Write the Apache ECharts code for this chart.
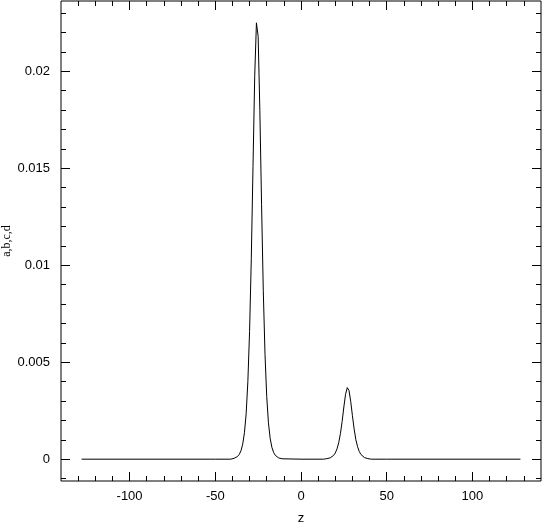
<!DOCTYPE html>
<html>
<head>
<meta charset="utf-8">
<script src="https://cdn.jsdelivr.net/npm/echarts@6/dist/echarts.min.js"></script>
<style>html,body{margin:0;padding:0;background:#fff;}#chart{width:542px;height:522px;}</style>
</head>
<body>
<div id="chart"></div>
<script>
const zValues = [-128,-50,-41,-40,-39,-38,-37,-36,-35,-34,-33,-32,-31,-30,-29,-28,-27,-26,-25,-24,-23,-22,-21,-20,-19,-18,-17,-16,-15,-14,-13,-12,-11,-10,0,13,14,15,16,17,18,19,20,21,22,23,24,25,26,27,28,29,30,31,32,33,34,35,36,37,38,39,40,41,50,128];
const abcdValues = [0,0,0,0.000025,0.000045,0.00008,0.000142,0.000249,0.000441,0.000775,0.00136,0.00234,0.00399,0.00658,0.01033,0.01509,0.01975,0.0225,0.0218,0.01799,0.01312,0.00868,0.00541,0.00324,0.00188,0.00108,0.000617,0.000351,0.000199,0.000113,0.000064,0.000036,0.00002,0,0,0,0.000014,0.000024,0.00004,0.000068,0.000115,0.000192,0.00032,0.000528,0.000847,0.00132,0.00195,0.00269,0.00335,0.00369,0.00354,0.00298,0.00224,0.00155,0.00101,0.000642,0.000392,0.000237,0.000142,0.000084,0.00005,0.00003,0.000018,0,0,0];
const xMajorTicks = [-100,-50,0,50,100];
const xMinorTicks = [-130,-120,-110,-90,-80,-70,-60,-40,-30,-20,-10,10,20,30,40,60,70,80,90,110,120,130];
const yMajorTicks = [0,0.005,0.01,0.015,0.02];
const yMinorTicks = [-0.001,0.001,0.002,0.003,0.004,0.006,0.007,0.008,0.009,0.011,0.012,0.013,0.014,0.016,0.017,0.018,0.019,0.021,0.022,0.023];
const xMin = -140, xMax = 140, yMin = -0.001125, yMax = 0.023625;

const FONT = 'Liberation Sans';
const black = '#000';
function xAx(pos, ticks, len, labels, extra) {
  return Object.assign({
    type: 'value', position: pos, min: xMin, max: xMax,
    axisLine: {show: false, onZero: false}, splitLine: {show: false},
    axisTick: {show: true, inside: true, length: len, customValues: ticks, lineStyle: {color: black, width: 1}},
    axisLabel: labels ? {show: true, customValues: ticks, color: black, fontFamily: FONT, fontSize: 13, margin: 9, formatter: v => String(v)} : {show: false}
  }, extra || {});
}
function yAx(pos, ticks, len, labels, extra) {
  return Object.assign({
    type: 'value', position: pos, min: yMin, max: yMax,
    axisLine: {show: false, onZero: false}, splitLine: {show: false},
    axisTick: {show: true, inside: true, length: len, customValues: ticks, lineStyle: {color: black, width: 1}},
    axisLabel: labels ? {show: true, customValues: ticks, color: black, fontFamily: FONT, fontSize: 13, margin: 11, formatter: v => String(v)} : {show: false}
  }, extra || {});
}

const chart = echarts.init(document.getElementById('chart'), null, {renderer: 'canvas'});
chart.setOption({
  animation: false,
  backgroundColor: '#fff',
  grid: {left: 61, top: 1, right: 1, bottom: 41, containLabel: false, outerBoundsMode: 'none', show: true, borderColor: black, borderWidth: 1, backgroundColor: 'transparent'},
  xAxis: [
    xAx('bottom', xMajorTicks, 9, true, {name: 'z', nameLocation: 'middle', nameGap: 31, nameMoveOverlap: false, nameTextStyle: {color: black, fontFamily: FONT, fontSize: 13}}),
    xAx('bottom', xMinorTicks, 5, false),
    xAx('top', xMajorTicks, 9, false),
    xAx('top', xMinorTicks, 5, false)
  ],
  yAxis: [
    yAx('left', yMajorTicks, 9, true, {name: 'a,b,c,d', nameLocation: 'middle', nameGap: 48, nameRotate: 90, nameMoveOverlap: false, nameTextStyle: {color: black, fontFamily: 'Liberation Serif', fontSize: 12}}),
    yAx('left', yMinorTicks, 5, false),
    yAx('right', yMajorTicks, 9, false),
    yAx('right', yMinorTicks, 5, false)
  ],
  series: [{
    type: 'line',
    xAxisIndex: 0, yAxisIndex: 0,
    data: zValues.map((z, i) => [z, abcdValues[i]]),
    showSymbol: false, symbol: 'none',
    lineStyle: {color: black, width: 1},
    silent: true
  }]
});
</script>
</body>
</html>
